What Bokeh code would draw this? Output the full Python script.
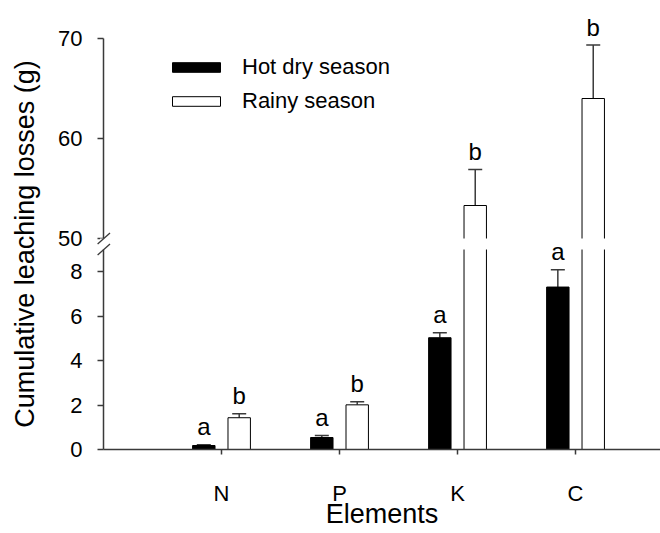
from bokeh.plotting import figure
from bokeh.models import (ColumnDataSource, Range1d, FixedTicker, Whisker, TeeHead,
                          Legend, LegendItem, BoxAnnotation)
from bokeh.core.properties import value
from bokeh.embed import file_html
from bokeh.resources import INLINE

# ---------------- data ----------------
elements = ["N", "P", "K", "C"]
hot_dry = [0.18, 0.54, 5.03, 7.31]
hot_dry_err = [0.03, 0.09, 0.22, 0.78]
rainy = [1.43, 2.01, 53.3, 64.0]
rainy_err = [0.18, 0.14, 3.6, 5.35]
hot_letters = ["a", "a", "a", "a"]
rainy_letters = ["b", "b", "b", "b"]
lower_ticks = [0, 2, 4, 6, 8]
upper_ticks = [50, 60, 70]

# ---------------- broken-axis geometry ----------------
FONT = "Liberation Sans"
AX = "#3a3a3a"
LOW_MAX = 9.0          # top of lower panel
GAP = 0.495            # gap between panels (lower-axis units)
UP_MIN, UP_MAX = 50, 70
UP_SCALE = 0.45        # lower units per upper unit
low_end = LOW_MAX + GAP + (UP_MAX - UP_MIN) * UP_SCALE
up_start = UP_MIN - (LOW_MAX + GAP) / UP_SCALE


def to_low(v):
    return LOW_MAX + GAP + (v - UP_MIN) * UP_SCALE


xs = [i + 1 for i in range(len(elements))]
OFF, W = 0.15, 0.19

hot = ColumnDataSource(dict(
    x=[x - OFF for x in xs], top=hot_dry,
    hi=[v + e for v, e in zip(hot_dry, hot_dry_err)], lab=hot_letters))

lo_idx = [i for i, v in enumerate(rainy) if v <= LOW_MAX]
up_idx = [i for i, v in enumerate(rainy) if v > LOW_MAX]

rain_low_full = ColumnDataSource(dict(
    x=[xs[i] + OFF for i in lo_idx], top=[rainy[i] for i in lo_idx],
    hi=[rainy[i] + rainy_err[i] for i in lo_idx], lab=[rainy_letters[i] for i in lo_idx]))
rain_low_cut = ColumnDataSource(dict(
    x=[xs[i] + OFF for i in up_idx], top=[LOW_MAX + GAP / 2 for i in up_idx]))
rain_up = ColumnDataSource(dict(
    x=[xs[i] + OFF for i in up_idx], top=[rainy[i] for i in up_idx],
    bottom=[UP_MIN - GAP / 2 / UP_SCALE for i in up_idx],
    hi=[rainy[i] + rainy_err[i] for i in up_idx], lab=[rainy_letters[i] for i in up_idx]))

p = figure(width=660, height=533, x_range=Range1d(0, 4.72), y_range=Range1d(0, low_end),
           output_backend="svg", toolbar_location=None,
           min_border_left=103, min_border_right=0, min_border_top=38, min_border_bottom=84)
p.extra_y_ranges = {"upper": Range1d(up_start, UP_MAX)}
p.outline_line_color = None
p.xgrid.visible = False
p.ygrid.visible = False

r_hot = p.vbar(x="x", top="top", bottom=0, width=W, source=hot,
               fill_color="black", line_color="black", line_width=1)
r_rain = p.vbar(x="x", top="top", bottom=0, width=W, source=rain_low_full,
                fill_color="white", line_color="black", line_width=1)
p.vbar(x="x", top="top", bottom=0, width=W, source=rain_low_cut,
       fill_color="white", line_color="black", line_width=1)
p.vbar(x="x", top="top", bottom="bottom", width=W, source=rain_up, y_range_name="upper",
       fill_color="white", line_color="black", line_width=1)

# gap band hiding the bars between panels
p.add_layout(BoxAnnotation(bottom=LOW_MAX, top=LOW_MAX + GAP, fill_color="white",
                           fill_alpha=1, line_alpha=0))

for src, rng in [(hot, "default"), (rain_low_full, "default"), (rain_up, "upper")]:
    w = Whisker(source=src, base="x", lower="top", upper="hi", dimension="height",
                line_color=AX, line_width=1.5,
                upper_head=TeeHead(size=14, line_color=AX, line_width=1.5), lower_head=None)
    if rng != "default":
        w.y_range_name = rng
    p.add_layout(w)

# significance letters
for src, rng in [(hot, "default"), (rain_low_full, "default"), (rain_up, "upper")]:
    kw = {} if rng == "default" else {"y_range_name": rng}
    p.text(x="x", y="hi", text="lab", source=src, text_align="center",
           text_baseline="alphabetic", y_offset=-18, text_font=value(FONT),
           text_font_size="24px", text_color="black", level="overlay", **kw)

# axis break marks
p.quad(left=[-0.03], right=[0.03], bottom=[LOW_MAX], top=[LOW_MAX + GAP],
       fill_color="white", line_color=None, level="overlay")
p.segment(x0=[-0.05, -0.05], y0=[LOW_MAX + GAP - 0.25, LOW_MAX - 0.25],
          x1=[0.055, 0.055], y1=[LOW_MAX + GAP + 0.25, LOW_MAX + 0.25],
          line_color=AX, line_width=1.3, level="overlay")

# axes
yt = lower_ticks + [to_low(t) for t in upper_ticks]
p.yaxis.ticker = FixedTicker(ticks=yt)
p.yaxis.major_label_overrides = {to_low(t): str(t) for t in upper_ticks}
p.xaxis.ticker = FixedTicker(ticks=xs)
p.xaxis.major_label_overrides = {x: e for x, e in zip(xs, elements)}
p.xaxis.axis_label = "Elements"
p.yaxis.axis_label = "Cumulative leaching losses (g)"
for ax in (p.xaxis, p.yaxis):
    ax.axis_line_color = AX
    ax.axis_line_width = 1.5
    ax.major_tick_line_color = AX
    ax.major_tick_line_width = 1.5
    ax.major_tick_in = 0
    ax.minor_tick_line_color = None
    ax.major_label_text_font = FONT
    ax.major_label_text_font_size = "22px"
    ax.major_label_text_color = "black"
    ax.axis_label_text_font = FONT
    ax.axis_label_text_font_size = "27px"
    ax.axis_label_text_font_style = "normal"
    ax.axis_label_text_color = "black"
p.yaxis.major_tick_out = 6
p.xaxis.major_tick_out = 5
p.yaxis.major_label_standoff = 15
p.yaxis.axis_label_standoff = 15
p.xaxis.major_label_standoff = 26
p.xaxis.axis_label_standoff = -10

legend = Legend(items=[LegendItem(label="Hot dry season", renderers=[r_hot]),
                       LegendItem(label="Rainy season", renderers=[r_rain])],
                location=(63, 335), padding=0, margin=0, border_line_color=None,
                background_fill_alpha=0, glyph_width=60, glyph_height=12,
                label_standoff=16, label_height=24, spacing=8,
                label_text_font=FONT, label_text_font_size="22px",
                label_text_color="black")
p.add_layout(legend)

open("out.html", "w").write(file_html(p, INLINE))
